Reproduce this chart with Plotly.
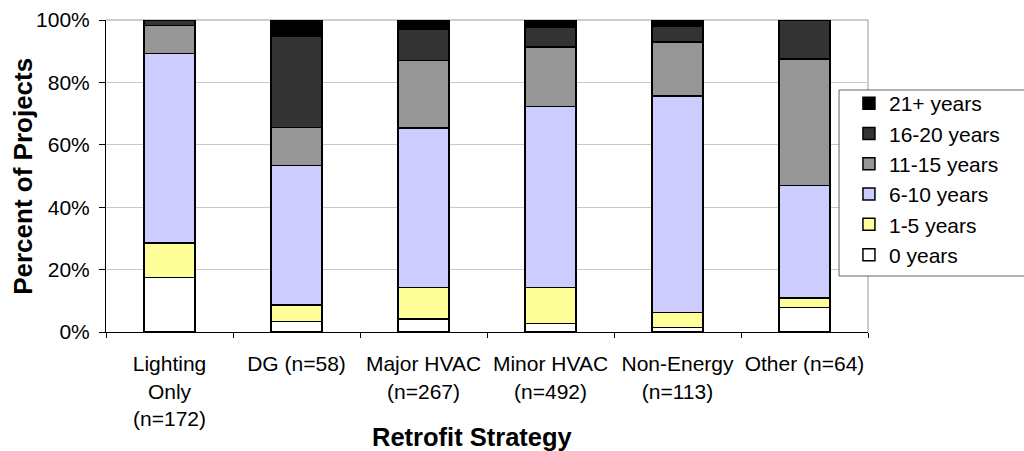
import plotly.graph_objects as go

categories = ["Lighting<br>Only<br>(n=172)", "DG (n=58)", "Major HVAC<br>(n=267)",
              "Minor HVAC<br>(n=492)", "Non-Energy<br>(n=113)", "Other (n=64)"]
series_names = ["0 years", "1-5 years", "6-10 years", "11-15 years", "16-20 years", "21+ years"]
years_0 = [17.5, 3.4, 4.2, 2.7, 1.5, 7.8]
years_1_5 = [11.0, 5.2, 10.1, 11.6, 4.8, 3.1]
years_6_10 = [60.8, 44.8, 51.1, 57.9, 69.3, 36.0]
years_11_15 = [9.0, 12.1, 21.7, 19.1, 17.3, 40.6]
years_16_20 = [1.7, 29.3, 9.9, 6.4, 5.1, 12.5]
years_21 = [0.0, 5.2, 3.0, 2.3, 2.0, 0.0]
y_tick_vals = [0, 20, 40, 60, 80, 100]
y_tick_text = ["0%", "20%", "40%", "60%", "80%", "100%"]
x_title = "Retrofit Strategy"
y_title = "Percent of Projects"
colors = ["#FFFFFF", "#FFFF99", "#CCCCFF", "#969696", "#333333", "#000000"]
values = [years_0, years_1_5, years_6_10, years_11_15, years_16_20, years_21]

fig = go.Figure()
for name, vals, col in zip(series_names, values, colors):
    fig.add_trace(go.Bar(
        x=categories, y=vals, name=name,
        marker=dict(color=col, line=dict(color="#000000", width=1.5)),
    ))

font = "Liberation Sans, Arial, sans-serif"
fig.update_layout(
    barmode="stack",
    bargap=0.6,
    width=1024, height=451,
    margin=dict(l=106, r=156, t=20, b=119, autoexpand=False),
    paper_bgcolor="white", plot_bgcolor="white",
    font=dict(family=font, size=21, color="#000000"),
    showlegend=True,
    legend=dict(
        x=0.975, y=0.798, xanchor="left", yanchor="top",
        traceorder="reversed",
        borderwidth=0, bgcolor="rgba(0,0,0,0)",
        font=dict(family=font, size=21, color="#000000"),
    ),
    xaxis=dict(
        tickson="boundaries", ticks="outside", ticklen=5, tickcolor="#000000",
        showline=True, linecolor="#000000", linewidth=1,
        range=[-0.5, 5.5], ticklabelstandoff=13, tickangle=0, automargin=False,
        tickfont=dict(family=font, size=21),
    ),
    yaxis=dict(
        range=[0, 100], tickmode="array", tickvals=y_tick_vals, ticktext=y_tick_text,
        ticks="outside", ticklen=6, tickcolor="#000000",
        showline=True, linecolor="#000000", linewidth=1,
        showgrid=True, gridcolor="#C8C8C8", gridwidth=1,
        ticklabelstandoff=5, automargin=False,
        tickfont=dict(family=font, size=21),
        zeroline=False,
    ),
    annotations=[
        dict(text="<b>" + x_title + "</b>", xref="paper", yref="paper",
             x=0.481, y=-0.3365, xanchor="center", yanchor="middle", showarrow=False,
             font=dict(family=font, size=25.5, color="#000000")),
        dict(text="<b>" + y_title + "</b>", xref="paper", yref="paper",
             x=-0.110, y=0.498, xanchor="center", yanchor="middle", showarrow=False,
             textangle=-90, font=dict(family=font, size=26, color="#000000")),
    ],
    shapes=[
        dict(type="line", xref="paper", yref="paper", x0=0, x1=1, y0=1, y1=1,
             line=dict(color="#999999", width=1), layer="below"),
        dict(type="line", xref="paper", yref="paper", x0=1, x1=1, y0=0, y1=1,
             line=dict(color="#999999", width=1), layer="below"),
        dict(type="rect", xref="paper", yref="paper", x0=0.962, x1=1.3, y0=0.1795, y1=0.7756,
             line=dict(color="#666666", width=1), fillcolor="white", layer="above"),
    ],
)

fig.write_html("out.html", config={"displayModeBar": False},
               post_script="document.body.style.margin='0';")
